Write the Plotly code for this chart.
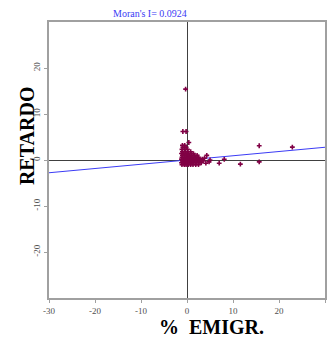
import plotly.graph_objects as go

# data: % emigration vs spatial lag (RETARDO)
emigr = [
    -1.1, -0.6, -0.2, 0.3, 0.8, 1.3, 1.9, 2.5,
    -1.2, -0.8, -0.4, 0.0, 0.4, 0.9, 1.4, 2.0, 2.6, 3.1,
    -1.0, -0.5, -0.1, 0.3, 0.7, 1.2, 1.7, 2.3, 2.9, 3.5,
    -1.2, -0.7, -0.3, 0.2, 0.6, 1.0, 1.5, 2.1, 2.7, 3.3,
    -1.1, -0.6, -0.2, 0.3, 0.8, 1.3, 1.9, 2.5,
    -1.0, -0.5, 0.0, 0.5, 1.0, 1.6, 2.2,
    -1.2, -0.7, -0.2, 0.3, 0.9, 1.4,
    -1.0, -0.4, 0.2, 0.8,
    -1.1, -0.5, 0.1,
    -0.9, -0.2,
    -1.0, -0.5,
    4.3, 5.0, 4.8, 4.1, 3.8, 7.0, 8.1, 11.6, 15.7, 15.7, 22.9, 0.4, -0.9, -0.2, -0.3,
]
retardo = [
    -1.0, -1.0, -1.0, -1.0, -1.0, -1.0, -1.0, -1.0,
    -0.6, -0.6, -0.6, -0.6, -0.6, -0.6, -0.6, -0.6, -0.6, -0.6,
    -0.2, -0.2, -0.2, -0.2, -0.2, -0.2, -0.2, -0.2, -0.2, -0.2,
    0.2, 0.2, 0.2, 0.2, 0.2, 0.2, 0.2, 0.2, 0.2, 0.2,
    0.6, 0.6, 0.6, 0.6, 0.6, 0.6, 0.6, 0.6,
    1.0, 1.0, 1.0, 1.0, 1.0, 1.0, 1.0,
    1.4, 1.4, 1.4, 1.4, 1.4, 1.4,
    1.8, 1.8, 1.8, 1.8,
    2.3, 2.3, 2.3,
    2.8, 2.8,
    3.2, 3.2,
    1.0, 0.0, -0.4, -0.7, 0.4, -0.7, 0.15, -0.9, -0.4, 3.1, 2.8, 3.8, 6.2, 6.2, 15.4,
]
moran_i = 0.0924
line_x = [-30, 30]
line_y = [moran_i * v for v in line_x]
x_tick_vals = [-30, -20, -10, 0, 10, 20, 30]
x_tick_text = ["-30", "-20", "-10", "0", "10", "20", "30"]
y_tick_vals = [-20, -10, 0, 10, 20]
y_tick_text = ["-20", "-10", "0", "10", "20"]

fig = go.Figure()
fig.add_trace(go.Scatter(x=line_x, y=line_y, mode="lines",
                         line=dict(color="#3b3bf5", width=1), hoverinfo="skip"))
fig.add_trace(go.Scatter(x=emigr, y=retardo, mode="markers",
                         marker=dict(symbol="cross", size=4, color="#800045",
                                     line=dict(width=0))))

axis_common = dict(range=[-30, 30],
                   showgrid=False, zeroline=True, zerolinecolor="#404040", zerolinewidth=1,
                   showline=True, linecolor="#a0a0a0", linewidth=2, mirror=True,
                   ticks="outside", ticklen=3, tickcolor="#a0a0a0", automargin=False,
                   tickfont=dict(family="Liberation Serif", size=9, color="#505050"))
fig.update_layout(
    width=329, height=338,
    margin=dict(l=49, r=4, t=22, b=40),
    paper_bgcolor="white", plot_bgcolor="white",
    showlegend=False,
    xaxis=dict(**axis_common, tickvals=x_tick_vals, ticktext=x_tick_text),
    yaxis=dict(**axis_common, tickvals=y_tick_vals, ticktext=y_tick_text, tickangle=-90),
    annotations=[
        dict(text="Moran's I= 0.0924", xref="paper", yref="paper", x=0.366, y=1.005,
             xanchor="center", yanchor="bottom", showarrow=False,
             font=dict(family="Liberation Serif", size=10, color="#3b3bf5")),
        dict(text="<b>RETARDO</b>", xref="paper", yref="paper", x=-0.08, y=0.59,
             xanchor="center", yanchor="middle", textangle=-90, showarrow=False,
             font=dict(family="Liberation Serif", size=20, color="black")),
        dict(text="<b>%  EMIGR.</b>", xref="paper", yref="paper", x=0.59, y=-0.105,
             xanchor="center", yanchor="middle", showarrow=False,
             font=dict(family="Liberation Serif", size=20, color="black")),
    ],
)
fig.write_html("out.html", config={"displayModeBar": False},
               post_script="document.body.style.margin='0';document.body.style.overflow='hidden';")
